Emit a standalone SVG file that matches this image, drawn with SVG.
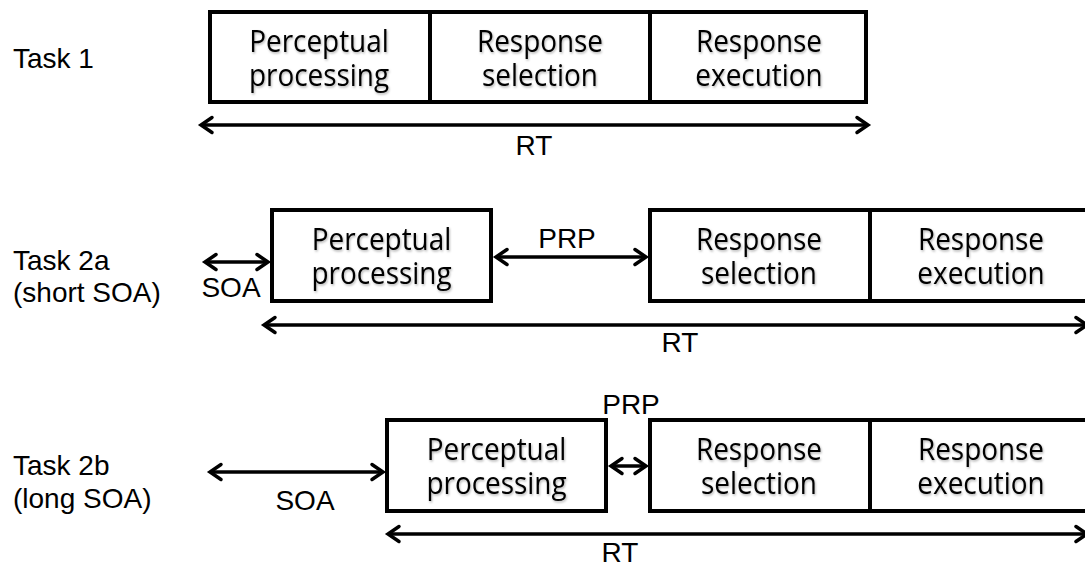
<svg xmlns="http://www.w3.org/2000/svg" width="1085" height="567" viewBox="0 0 1085 567">
  <defs>
    <style>
      .stage { fill: #ffffff; stroke: #000000; stroke-width: 4; }
      .divider { stroke: #000000; stroke-width: 4; }
      .stagetext { font-family: "Open Sans", "Noto Sans", sans-serif; font-size: 31px; fill: #000000; text-anchor: middle; filter: url(#soft); }
      .label { font-family: "Liberation Sans", Arial, sans-serif; font-size: 28px; fill: #000000; }
      .mid { text-anchor: middle; }
      .arrow { fill: none; stroke: #000000; stroke-width: 3.5; marker-start: url(#head); marker-end: url(#head); }
    </style>
    <filter id="soft" x="-10%" y="-20%" width="120%" height="150%">
      <feDropShadow dx="1" dy="1.5" stdDeviation="1" flood-color="#000000" flood-opacity="0.3"/>
    </filter>
    <marker id="head" markerUnits="userSpaceOnUse" viewBox="-16 -10 20 20" refX="0" refY="0" markerWidth="20" markerHeight="20" orient="auto-start-reverse">
      <path d="M -11 -7.5 L 0 0 L -11 7.5" fill="none" stroke="#000000" stroke-width="3.5" stroke-linecap="round" stroke-linejoin="miter"/>
    </marker>
  </defs>

  <rect width="1085" height="567" fill="#ffffff"/>

  <!-- row labels -->
  <g id="row-labels">
    <text class="label" x="13" y="68">Task 1</text>
    <text class="label" x="13" y="270">Task 2a</text>
    <text class="label" x="13" y="302">(short SOA)</text>
    <text class="label" x="13" y="475">Task 2b</text>
    <text class="label" x="13" y="508">(long SOA)</text>
  </g>

  <!-- Task 1: three stages in one block -->
  <g id="task1">
    <rect class="stage" x="210" y="12" width="656" height="90"/>
    <line class="divider" x1="430" y1="12" x2="430" y2="102"/>
    <line class="divider" x1="650" y1="12" x2="650" y2="102"/>
    <text class="stagetext" transform="translate(319 0) scale(0.9 1)" y="52"><tspan x="0">Perceptual</tspan><tspan x="0" dy="34">processing</tspan></text>
    <text class="stagetext" transform="translate(540 0) scale(0.9 1)" y="52"><tspan x="0">Response</tspan><tspan x="0" dy="34">selection</tspan></text>
    <text class="stagetext" transform="translate(759 0) scale(0.9 1)" y="52"><tspan x="0">Response</tspan><tspan x="0" dy="34">execution</tspan></text>
  </g>

  <!-- Task 2a: short SOA -->
  <g id="task2a-perceptual">
    <rect class="stage" x="272" y="210" width="219" height="91"/>
    <text class="stagetext" transform="translate(381.5 0) scale(0.9 1)" y="250"><tspan x="0">Perceptual</tspan><tspan x="0" dy="34">processing</tspan></text>
  </g>
  <g id="task2a-response">
    <rect class="stage" x="650" y="210" width="442" height="91"/>
    <line class="divider" x1="870" y1="210" x2="870" y2="301"/>
    <text class="stagetext" transform="translate(759 0) scale(0.9 1)" y="250"><tspan x="0">Response</tspan><tspan x="0" dy="34">selection</tspan></text>
    <text class="stagetext" transform="translate(981 0) scale(0.9 1)" y="250"><tspan x="0">Response</tspan><tspan x="0" dy="34">execution</tspan></text>
  </g>

  <!-- Task 2b: long SOA -->
  <g id="task2b-perceptual">
    <rect class="stage" x="387" y="420" width="219" height="91"/>
    <text class="stagetext" transform="translate(496.5 0) scale(0.9 1)" y="460"><tspan x="0">Perceptual</tspan><tspan x="0" dy="34">processing</tspan></text>
  </g>
  <g id="task2b-response">
    <rect class="stage" x="650" y="420" width="442" height="91"/>
    <line class="divider" x1="870" y1="420" x2="870" y2="511"/>
    <text class="stagetext" transform="translate(759 0) scale(0.9 1)" y="460"><tspan x="0">Response</tspan><tspan x="0" dy="34">selection</tspan></text>
    <text class="stagetext" transform="translate(981 0) scale(0.9 1)" y="460"><tspan x="0">Response</tspan><tspan x="0" dy="34">execution</tspan></text>
  </g>

  <!-- interval arrows -->
  <g id="connectors">
    <line class="arrow" x1="201" y1="125" x2="868" y2="125"/>
    <line class="arrow" x1="205" y1="262" x2="268" y2="262"/>
    <line class="arrow" x1="496" y1="257" x2="646" y2="257"/>
    <line class="arrow" x1="264" y1="325" x2="1087" y2="325"/>
    <line class="arrow" x1="210" y1="472" x2="383" y2="472"/>
    <line class="arrow" x1="611" y1="466" x2="646" y2="466"/>
    <line class="arrow" x1="388" y1="534" x2="1087" y2="534"/>
  </g>

  <!-- interval labels -->
  <g id="interval-labels">
    <text class="label mid" x="534" y="155">RT</text>
    <text class="label mid" x="567" y="248">PRP</text>
    <text class="label mid" x="231" y="297">SOA</text>
    <text class="label mid" x="680" y="352">RT</text>
    <text class="label mid" x="631" y="414">PRP</text>
    <text class="label mid" x="305" y="510">SOA</text>
    <text class="label mid" x="620" y="562">RT</text>
  </g>
</svg>
